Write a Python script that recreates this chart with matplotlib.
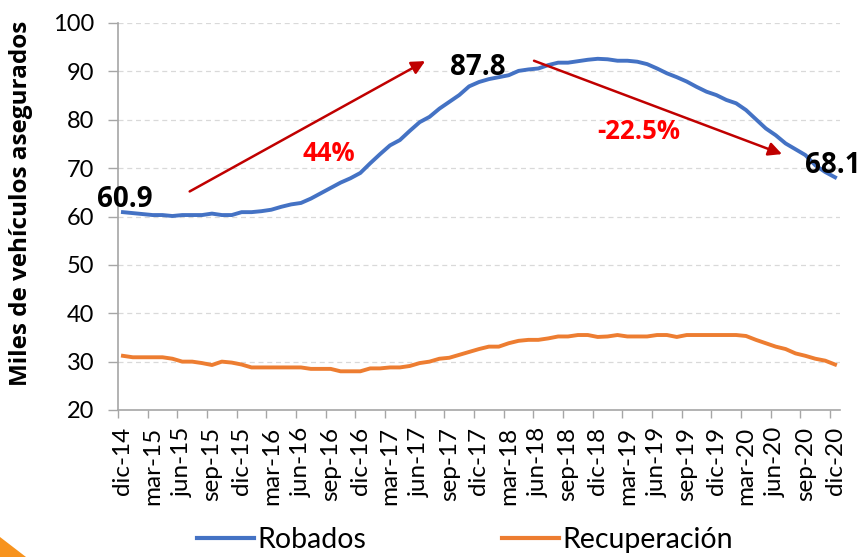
import matplotlib
matplotlib.use("Agg")
import matplotlib.pyplot as plt
from matplotlib.patches import Polygon

mon_order = ["ene", "feb", "mar", "abr", "may", "jun", "jul", "ago", "sep", "oct", "nov", "dic"]
categories = ["dic-14"] + [f"{m}-{y}" for y in range(15, 21) for m in mon_order]

robados = [60.9, 60.7, 60.5, 60.3, 60.3, 60.1, 60.3, 60.3, 60.3, 60.6,
           60.3, 60.3, 60.9, 60.9, 61.1, 61.4, 62.0, 62.5, 62.8, 63.7,
           64.8, 65.9, 67.0, 67.9, 69.0, 71.0, 72.9, 74.7, 75.8, 77.7,
           79.5, 80.6, 82.3, 83.7, 85.1, 86.9, 87.8, 88.4, 88.8, 89.2,
           90.1, 90.4, 90.6, 91.3, 91.8, 91.8, 92.1, 92.4, 92.6, 92.5,
           92.2, 92.2, 92.0, 91.5, 90.6, 89.6, 88.8, 87.9, 86.8, 85.8,
           85.1, 84.1, 83.4, 82.0, 80.1, 78.2, 76.8, 75.1, 73.9, 72.7,
           70.6, 69.2, 68.1]
recuperacion = [31.2, 30.9, 30.9, 30.9, 30.9, 30.6, 30.0, 30.0, 29.7, 29.3,
                30.0, 29.8, 29.4, 28.8, 28.8, 28.8, 28.8, 28.8, 28.8, 28.5,
                28.5, 28.5, 28.0, 28.0, 28.0, 28.6, 28.6, 28.8, 28.8, 29.1,
                29.7, 30.0, 30.6, 30.8, 31.4, 32.0, 32.6, 33.1, 33.1, 33.8,
                34.3, 34.5, 34.5, 34.8, 35.2, 35.2, 35.5, 35.5, 35.1, 35.2,
                35.5, 35.2, 35.2, 35.2, 35.5, 35.5, 35.1, 35.5, 35.5, 35.5,
                35.5, 35.5, 35.5, 35.3, 34.5, 33.8, 33.1, 32.6, 31.7, 31.2,
                30.6, 30.2, 29.4]
yticks = [20, 30, 40, 50, 60, 70, 80, 90, 100]

FONT = ["Lato", "DejaVu Sans"]
BOLD = ["Open Sans", "DejaVu Sans"]
plt.rcParams["font.family"] = FONT

fig = plt.figure(figsize=(8.62, 5.57), dpi=100)
ax = fig.add_axes([118/862, 1-410/557, (840-118)/862, (410-23)/557])

x = list(range(len(categories)))
ax.plot(x, robados, color="#4472C4", lw=2.8, solid_joinstyle="round", label="Robados", zorder=3)
ax.plot(x, recuperacion, color="#ED7D31", lw=2.8, solid_joinstyle="round", label="Recuperación", zorder=3)

ax.set_xlim(-0.5, len(categories) - 0.5)
ax.set_ylim(20, 100)
ax.set_yticks(yticks)
ax.set_yticklabels([str(v) for v in yticks], fontsize=17)
ax.yaxis.grid(True, linestyle=(0, (4, 3)), color="#D9D9D9", lw=0.9)
ax.set_axisbelow(True)

lab_idx = list(range(0, len(categories), 3))
ax.set_xticks(lab_idx)
ax.set_xticklabels([categories[i] for i in lab_idx], rotation=90, fontsize=17.5)
ax.tick_params(axis="x", length=0, pad=12)
ax.set_xticks([i - 0.5 for i in range(0, len(categories) + 1, 3)], minor=True)
ax.tick_params(axis="x", which="minor", length=6, color="#A6A6A6", width=1)
ax.tick_params(axis="y", length=7, color="#A6A6A6", width=1, pad=10)

for s in ["top", "right"]:
    ax.spines[s].set_visible(False)
for s in ["left", "bottom"]:
    ax.spines[s].set_color("#A6A6A6")
    ax.spines[s].set_linewidth(1.2)

ax.set_ylabel("Miles de vehículos asegurados", fontsize=17.5, fontweight="bold", family=BOLD)
ax.yaxis.set_label_coords(-0.118, 0.535)

# value labels
lab_kw = dict(fontsize=20, fontweight="bold", family=BOLD, ha="center", va="center", clip_on=False, zorder=5)
ax.text(0.2, 63.6, f"{robados[0]:.1f}", **lab_kw)
ax.text(35.9, 90.8, f"{robados[36]:.1f}", **lab_kw)
ax.text(71.8, 70.5, f"{robados[72]:.1f}", **lab_kw)

# arrows
ax.annotate("", xy=(30.8, 92.4), xytext=(6.5, 64.9),
            arrowprops=dict(arrowstyle="-|>,head_length=0.8,head_width=0.4", color="#C00000", lw=1.8))
ax.annotate("", xy=(66.9, 72.7), xytext=(41.3, 92.4),
            arrowprops=dict(arrowstyle="-|>,head_length=0.8,head_width=0.4", color="#C00000", lw=1.8))
pct_kw = dict(fontsize=18.5, fontweight="bold", family=BOLD, color="#FF0000", ha="center", va="center")
ax.text(20.8, 73.1, "44%", **pct_kw)
ax.text(52.2, 77.5, "-22.5%", **pct_kw)

leg = fig.legend(loc="center", bbox_to_anchor=(465/862, 1-540/557), ncol=2, frameon=False,
                 fontsize=20.5, handlelength=2.0, handletextpad=0.1, columnspacing=4.8)
for h in leg.get_lines():
    h.set_linewidth(3)

# decorative orange corner
fig.patches.append(Polygon([(0, 0), (0, 20/557), (26/862, 0)], closed=True,
                           transform=fig.transFigure, facecolor="#F7931E", edgecolor="none"))

fig.savefig("out.png", dpi=100)
